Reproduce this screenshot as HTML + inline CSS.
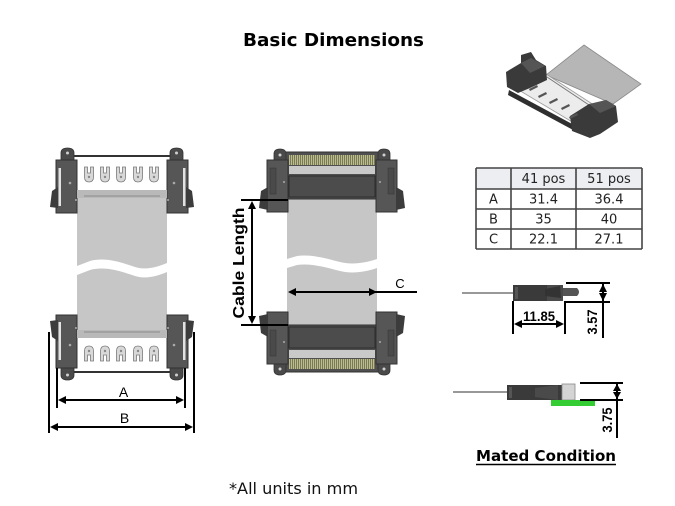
<!DOCTYPE html>
<html>
<head>
<meta charset="utf-8">
<style>
html,body{margin:0;padding:0;background:#fff;}
svg{display:block;}
</style>
</head>
<body>
<svg width="675" height="506" viewBox="0 0 675 506" xmlns="http://www.w3.org/2000/svg">
<defs>
  <pattern id="gold" width="2" height="12" patternUnits="userSpaceOnUse">
    <rect width="2" height="12" fill="#bcbc92"/>
    <rect width="1" height="12" fill="#7a7a52"/>
  </pattern>
  <g id="ct">
    <path d="M-4.5,0 h3 v6 h3 v-6 h3 v10 q0,5 -4.5,5 q-4.5,0 -4.5,-5 z" fill="#d8d8d8" stroke="#7a7a7a" stroke-width="0.8"/>
    <circle cx="0" cy="10" r="1.2" fill="#888"/>
  </g>
  <!-- left drawing housing -->
  <g id="LH">
    <path d="M61,162 L61,153 Q61,148 67.5,148 Q74,148 74,153 L74,162 Z" fill="#4a4a4a" stroke="#333" stroke-width="0.8"/>
    <circle cx="67.5" cy="153" r="1.5" fill="#cfcfcf"/>
    <rect x="56" y="160" width="21" height="53" fill="#565656" stroke="#333" stroke-width="1"/>
    <rect x="58.5" y="168" width="2.5" height="38" fill="#e2e2e2"/>
    <circle cx="70" cy="183" r="1.3" fill="#aaa"/>
    <circle cx="76" cy="200" r="1" fill="#aaa"/>
    <path d="M50,207 L52,191 L58,187 L58,208 Z" fill="#3c3c3c"/>
  </g>
  <g id="LTOP">
    <line x1="70" y1="156" x2="174" y2="156" stroke="#333" stroke-width="2"/>
    <use href="#LH"/>
    <use href="#LH" transform="translate(244,0) scale(-1,1)"/>
    <use href="#ct" transform="translate(89,167)"/>
    <use href="#ct" transform="translate(105,167)"/>
    <use href="#ct" transform="translate(121,167)"/>
    <use href="#ct" transform="translate(138,167)"/>
    <use href="#ct" transform="translate(154,167)"/>
    <rect x="77" y="190" width="90" height="8" fill="#b9b9b9"/>
    <line x1="84" y1="196" x2="160" y2="196" stroke="#8a8a8a" stroke-width="1"/>
  </g>
  <!-- middle drawing housing -->
  <g id="MH">
    <path d="M274,163 L274,154 Q274,149 280,149 Q286,149 286,154 L286,163 Z" fill="#4a4a4a" stroke="#333" stroke-width="0.8"/>
    <circle cx="280" cy="155" r="1.5" fill="#d0d0d0"/>
    <rect x="267" y="160" width="21" height="52" fill="#565656" stroke="#333" stroke-width="1"/>
    <rect x="270" y="168" width="6" height="26" fill="#4a4a4a" stroke="#3a3a3a" stroke-width="0.6"/>
    <circle cx="284" cy="182" r="1" fill="#aaa"/>
    <path d="M259,208 L261,191 L268,187 L268,210 Z" fill="#3c3c3c"/>
  </g>
  <g id="MTOP">
    <rect x="285" y="152" width="94" height="47" fill="#4f4f4f" stroke="#333" stroke-width="1"/>
    <rect x="289" y="155" width="86" height="10" fill="url(#gold)"/>
    <rect x="289" y="166" width="86" height="8" fill="#c9c9c9"/>
    <rect x="289" y="176" width="86" height="21" fill="#4c4c4c" stroke="#2e2e2e" stroke-width="1"/>
    <use href="#MH"/>
    <use href="#MH" transform="translate(664,0) scale(-1,1)"/>
  </g>
</defs>

<!-- Title -->
<text x="333.5" y="46" text-anchor="middle" font-family="DejaVu Sans, Liberation Sans, sans-serif" font-weight="bold" font-size="18" textLength="181" lengthAdjust="spacingAndGlyphs">Basic Dimensions</text>

<!-- ===== Left drawing ===== -->
<path d="M77,190 L167,190 L167,263 C155,268 145,270 135,267 C120,262 105,257 90,261 L77,266 Z" fill="#c6c6c6"/>
<path d="M77,275 L90,270 C105,266 120,271 135,276 C145,279 155,277 167,272 L167,338 L77,338 Z" fill="#c6c6c6"/>
<use href="#LTOP"/>
<use href="#LTOP" transform="translate(0,528) scale(1,-1)"/>

<!-- A dimension -->
<g stroke="#000" stroke-width="2">
  <line x1="57" y1="368" x2="57" y2="408"/>
  <line x1="185" y1="368" x2="185" y2="408"/>
  <line x1="62" y1="400" x2="180" y2="400"/>
  <line x1="49" y1="332" x2="49" y2="433"/>
  <line x1="194" y1="332" x2="194" y2="433"/>
  <line x1="54" y1="427" x2="189" y2="427"/>
</g>
<g fill="#000">
  <polygon points="58,400 66,396 66,404"/>
  <polygon points="184,400 176,396 176,404"/>
  <polygon points="50,427 58,423 58,431"/>
  <polygon points="193,427 185,423 185,431"/>
</g>
<text x="123.5" y="397" text-anchor="middle" font-family="Liberation Sans, sans-serif" font-size="14">A</text>
<text x="124.5" y="423" text-anchor="middle" font-family="Liberation Sans, sans-serif" font-size="14">B</text>

<!-- ===== Middle drawing ===== -->
<path d="M287,197 L377,197 L377,259 C365,263 352,265 340,262 C325,258 310,254 297,256 L287,259 Z" fill="#c6c6c6"/>
<path d="M287,268 L297,265 C310,263 325,267 340,271 C352,274 365,272 377,268 L377,328 L287,328 Z" fill="#c6c6c6"/>
<use href="#MTOP"/>
<use href="#MTOP" transform="translate(0,524) scale(1,-1)"/>

<!-- Cable length dim -->
<g stroke="#000" stroke-width="2">
  <line x1="241" y1="200" x2="288" y2="200"/>
  <line x1="241" y1="325" x2="288" y2="325"/>
  <line x1="252" y1="205" x2="252" y2="320"/>
  <line x1="292" y1="292" x2="417" y2="292"/>
</g>
<g fill="#000">
  <polygon points="252,201 248,209 256,209"/>
  <polygon points="252,324 248,316 256,316"/>
  <polygon points="288,292 296,288 296,296"/>
  <polygon points="377,292 369,288 369,296"/>
</g>
<text transform="translate(244,263) rotate(-90)" text-anchor="middle" font-family="Liberation Sans, sans-serif" font-weight="bold" font-size="16" textLength="111" lengthAdjust="spacingAndGlyphs">Cable Length</text>
<text x="400" y="288" text-anchor="middle" font-family="Liberation Sans, sans-serif" font-size="13">C</text>

<!-- ===== 3D view ===== -->
<polygon points="584,45 641,84 613,104 546,75" fill="#b6b6b6" stroke="#8a8a8a" stroke-width="0.8"/>
<polygon points="512,86 546,74 597,107 574,123" fill="#ececec" stroke="#9a9a9a" stroke-width="0.8"/>
<line x1="547" y1="77" x2="595" y2="109" stroke="#777" stroke-width="1"/>
<polygon points="509,90 574,125 575,131 508,95" fill="#2f2f2f"/>
<path d="M506,72 L521,63 L521,55 L531,52 L536,60 L546,66 L547,80 L530,88 L518,93 L507,87 Z" fill="#3a3a3a"/>
<path d="M521,63 L531,58 L545,66 L530,73 Z" fill="#555"/>
<path d="M570,116 L589,104 L599,105 L606,100 L616,106 L618,122 L600,134 L590,138 L572,131 Z" fill="#3a3a3a"/>
<path d="M589,104 L606,100 L616,106 L600,113 Z" fill="#555"/>
<g fill="#555">
  <polygon points="529,89 537,85 538,87 530,91"/>
  <polygon points="538,96 546,92 547,94 539,98"/>
  <polygon points="549,102 557,98 558,100 550,104"/>
  <polygon points="561,108 569,104 570,106 562,110"/>
  <polygon points="569,117 577,113 578,115 570,119"/>
</g>

<!-- ===== Table ===== -->
<rect x="476" y="168" width="166" height="21" fill="#eceef2"/>
<g stroke="#444" stroke-width="1.6">
  <line x1="476" y1="168" x2="642" y2="168"/>
  <line x1="476" y1="189" x2="642" y2="189"/>
  <line x1="476" y1="209" x2="642" y2="209"/>
  <line x1="476" y1="229" x2="642" y2="229"/>
  <line x1="476" y1="249" x2="642" y2="249"/>
  <line x1="476" y1="168" x2="476" y2="249"/>
  <line x1="511" y1="168" x2="511" y2="249"/>
  <line x1="576" y1="168" x2="576" y2="249"/>
  <line x1="642" y1="168" x2="642" y2="249"/>
</g>
<g font-family="DejaVu Sans, Liberation Sans, sans-serif" font-size="13" fill="#222" text-anchor="middle">
  <text x="543.5" y="183">41 pos</text>
  <text x="609" y="183">51 pos</text>
  <text x="493.5" y="203.5">A</text>
  <text x="543.5" y="203.5">31.4</text>
  <text x="609" y="203.5">36.4</text>
  <text x="493.5" y="223.5">B</text>
  <text x="543.5" y="223.5">35</text>
  <text x="609" y="223.5">40</text>
  <text x="493.5" y="243.5">C</text>
  <text x="543.5" y="243.5">22.1</text>
  <text x="609" y="243.5">27.1</text>
</g>

<!-- ===== Side view 1 ===== -->
<line x1="462" y1="293" x2="513" y2="293" stroke="#777" stroke-width="1.5"/>
<rect x="513" y="285" width="34" height="16" fill="#3a3a3a"/>
<rect x="515" y="287" width="3" height="12" fill="#555"/>
<path d="M547,285 L563,285 L563,301 L547,301 Z" fill="#4a4a4a"/>
<path d="M545,289 L560,286 L561,298 L545,296 Z" fill="#333"/>
<path d="M563,288 L577,288 Q581,292 577,296 L563,296 Z" fill="#555"/>
<g stroke="#000" stroke-width="2">
  <line x1="566" y1="283" x2="610" y2="283"/>
  <line x1="566" y1="302" x2="610" y2="302"/>
  <line x1="603" y1="283" x2="603" y2="338"/>
  <line x1="513" y1="301" x2="513" y2="334"/>
  <line x1="565" y1="301" x2="565" y2="334"/>
  <line x1="518" y1="324" x2="560" y2="324"/>
</g>
<g fill="#000">
  <polygon points="603,284 599,292 607,292"/>
  <polygon points="603,301 599,293 607,293"/>
  <polygon points="514,324 522,320 522,328"/>
  <polygon points="564,324 556,320 556,328"/>
</g>
<text x="539" y="321" text-anchor="middle" font-family="Liberation Sans, sans-serif" font-weight="bold" font-size="14" textLength="32" lengthAdjust="spacingAndGlyphs">11.85</text>
<text transform="translate(597,322) rotate(-90)" text-anchor="middle" font-family="Liberation Sans, sans-serif" font-weight="bold" font-size="14" textLength="25" lengthAdjust="spacingAndGlyphs">3.57</text>

<!-- ===== Side view 2 ===== -->
<line x1="453" y1="392" x2="507" y2="392" stroke="#777" stroke-width="1.5"/>
<rect x="507" y="385" width="55" height="15" fill="#3a3a3a"/>
<rect x="509" y="387" width="3" height="11" fill="#555"/>
<path d="M535,388 L558,385 L558,400 L535,397 Z" fill="#4a4a4a"/>
<rect x="562" y="384" width="13" height="16" fill="#d4d4d4" stroke="#888" stroke-width="0.8"/>
<rect x="551" y="400" width="44" height="6" fill="#33cc33"/>
<g stroke="#000" stroke-width="2">
  <line x1="580" y1="383" x2="623" y2="383"/>
  <line x1="580" y1="400" x2="623" y2="400"/>
  <line x1="617" y1="383" x2="617" y2="438"/>
</g>
<g fill="#000">
  <polygon points="617,384 613,391 621,391"/>
  <polygon points="617,399 613,392 621,392"/>
</g>
<text transform="translate(612,420) rotate(-90)" text-anchor="middle" font-family="Liberation Sans, sans-serif" font-weight="bold" font-size="14" textLength="25" lengthAdjust="spacingAndGlyphs">3.75</text>

<text x="546" y="461" text-anchor="middle" font-family="DejaVu Sans, Liberation Sans, sans-serif" font-weight="bold" font-size="15.5" textLength="140" lengthAdjust="spacingAndGlyphs">Mated Condition</text>
<line x1="476" y1="464.5" x2="616" y2="464.5" stroke="#000" stroke-width="1.5"/>

<!-- Footer -->
<text x="229" y="494" font-family="DejaVu Sans, Liberation Sans, sans-serif" font-size="16" fill="#111" textLength="129" lengthAdjust="spacingAndGlyphs">*All units in mm</text>
</svg>
</body>
</html>
